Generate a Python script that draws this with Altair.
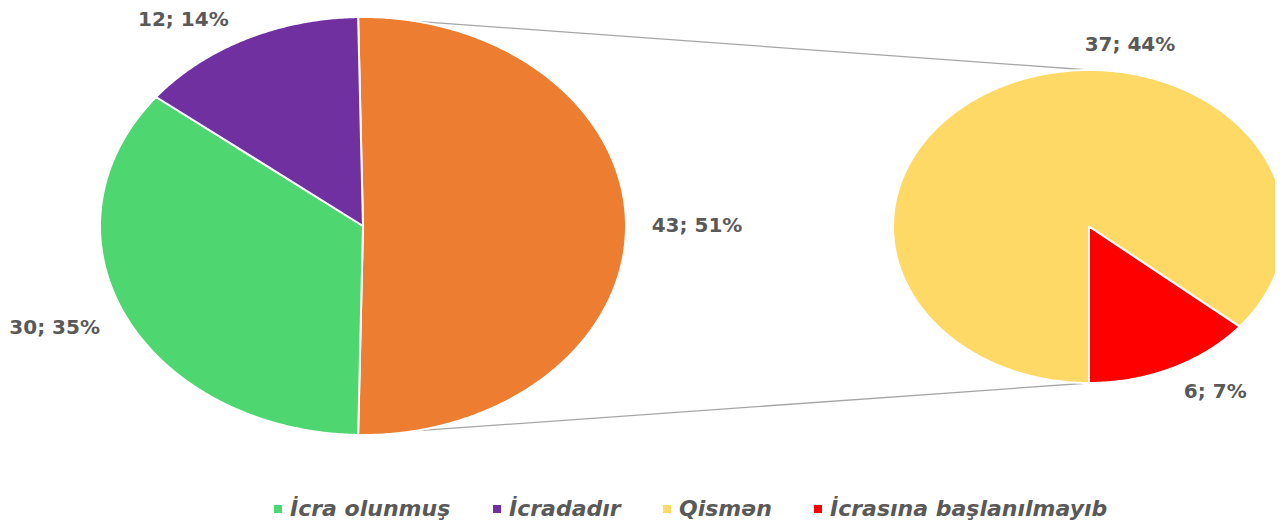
import altair as alt
import numpy as np
import pandas as pd

# ---- data ----
main_categories = ["İcra olunmuş", "İcradadır"]
main_values = [30, 12]
sub_categories = ["Qismən", "İcrasına başlanılmayıb"]
sub_values = [37, 6]
other_name = "Digər"

legend_order = ["İcra olunmuş", "İcradadır", "Qismən", "İcrasına başlanılmayıb"]
colors = {"İcra olunmuş": "#4ED670", "İcradadır": "#7030A0", "Qismən": "#FFD966",
          "İcrasına başlanılmayıb": "#FF0000", other_name: "#ED7D31"}

# ---- layout (chart pixel coordinates) ----
W, H = 1267, 514
LEFT = dict(cx=355.0, cy=218.0, rx=263.0, ry=209.0)
RIGHT = dict(cx=1081.0, cy=218.5, rx=196.0, ry=156.5)
# label placement: (angle in degrees clockwise from top, radial factor)
LABEL_POS = {other_name: (90, 1.27), "İcra olunmuş": (247.4, 1.27), "İcradadır": (325.3, 1.20),
             "Qismən": (10.2, 1.18), "İcrasına başlanılmayıb": (148.7, 1.24)}

other_value = sum(sub_values)
total = other_value + sum(main_values)


def pt(e, ang, r=1.0):
    t = np.deg2rad(ang)
    return e["cx"] + r * e["rx"] * np.sin(t), e["cy"] - r * e["ry"] * np.cos(t)


def slices(e, cats, vals, start):
    rows, spans = [], {}
    s = sum(vals)
    a = start
    for c, v in zip(cats, vals):
        a1 = a + v / s * 360.0
        spans[c] = (a, a1)
        n = int(np.ceil((a1 - a) / 0.5)) + 1
        th = np.linspace(a, a1, n)
        seq = [(e["cx"], e["cy"])] + [pt(e, t) for t in th] + [(e["cx"], e["cy"])]
        for i, (x, y) in enumerate(seq):
            rows.append({"cat": c, "i": i, "x": x, "y": y})
        a = a1
    return rows, spans


left_cats = [other_name] + main_categories
left_vals = [other_value] + main_values
left_start = 90 - other_value / total * 180.0
lrows, lspans = slices(LEFT, left_cats, left_vals, left_start)

right_start = 180.0
rrows, rspans = slices(RIGHT, sub_categories, sub_values, right_start)

poly = pd.DataFrame(lrows + rrows)
poly["key"] = poly["cat"]

# connector lines
top_l = pt(LEFT, lspans[other_name][0])
bot_l = pt(LEFT, lspans[other_name][1])
top_r = pt(RIGHT, 0)
bot_r = pt(RIGHT, 180)
conn = pd.DataFrame({"x": [top_l[0], bot_l[0]], "y": [top_l[1], bot_l[1]],
                     "x2": [top_r[0], bot_r[0]], "y2": [top_r[1], bot_r[1]]})

# labels
lab_rows = []
for c, v in zip(left_cats + sub_categories, left_vals + sub_values):
    e = RIGHT if c in sub_categories else LEFT
    ang, r = LABEL_POS[c]
    x, y = pt(e, ang, r)
    lab_rows.append({"x": x, "y": y, "text": f"{v}; {round(v / total * 100)}%"})
labels = pd.DataFrame(lab_rows)

xs = alt.Scale(domain=[0, W], nice=False, zero=False)
ys = alt.Scale(domain=[0, H], nice=False, zero=False, reverse=True)

color_domain = legend_order + [other_name]
fill_scale = alt.Scale(domain=color_domain, range=[colors[c] for c in color_domain])

rules = alt.Chart(conn).mark_rule(color="#A6A6A6", strokeWidth=1.3).encode(
    x=alt.X("x:Q", scale=xs, axis=None), y=alt.Y("y:Q", scale=ys, axis=None),
    x2="x2:Q", y2="y2:Q")

pies = alt.Chart(poly).mark_line(stroke="white", strokeWidth=2, strokeJoin="round").encode(
    x=alt.X("x:Q", scale=xs, axis=None),
    y=alt.Y("y:Q", scale=ys, axis=None),
    fill=alt.Fill("cat:N", scale=fill_scale,
                  legend=alt.Legend(values=legend_order, title=None, orient="none",
                                    direction="horizontal", legendX=259, legendY=490,
                                    symbolType="square", symbolSize=64, symbolStrokeWidth=0,
                                    labelFont="DejaVu Sans", labelFontStyle="italic",
                                    labelFontWeight="bold", labelFontSize=22,
                                    labelColor="#595959", labelOffset=1, columnPadding=35,
                                    labelLimit=500, padding=0)),
    detail="key:N",
    order=alt.Order("i:Q"))

texts = alt.Chart(labels).mark_text(font="DejaVu Sans", fontWeight="bold", fontSize=20,
                                     color="#595959", align="center", baseline="middle").encode(
    x=alt.X("x:Q", scale=xs, axis=None), y=alt.Y("y:Q", scale=ys, axis=None), text="text:N")

chart = alt.layer(rules, pies, texts).properties(
    width=W, height=H, padding=0, autosize=alt.AutoSizeParams(type="none")
).configure_view(stroke=None)

chart.save("out.html", embed_options={"renderer": "svg", "actions": False})
